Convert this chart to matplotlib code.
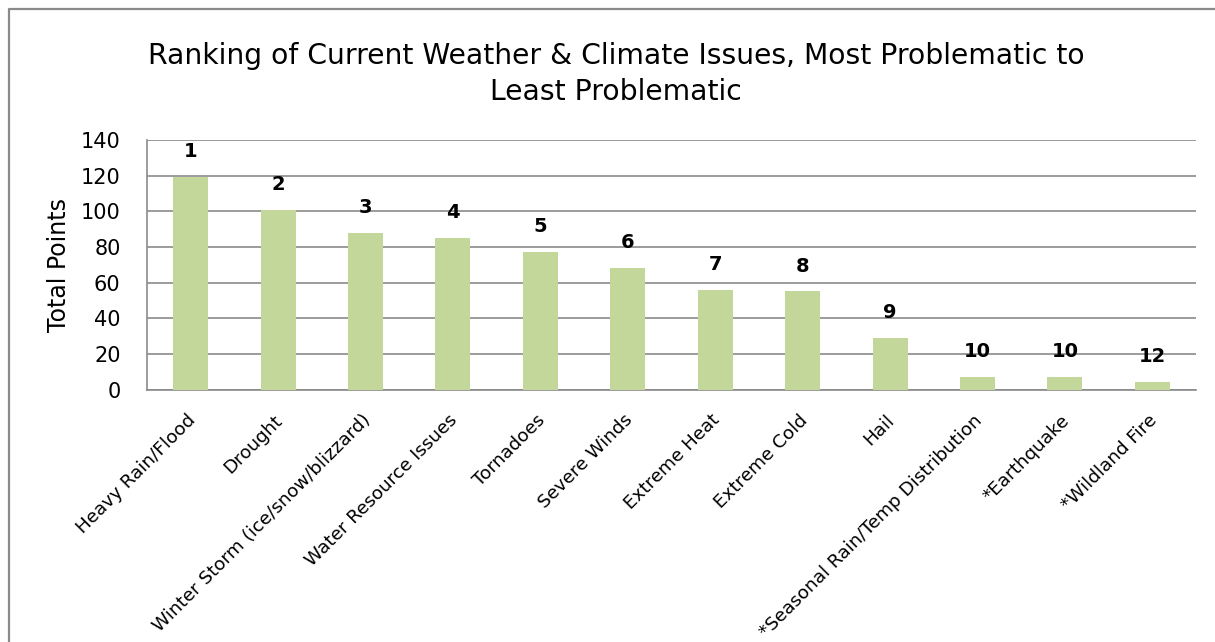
import matplotlib
matplotlib.use("Agg")
import matplotlib.pyplot as plt
import matplotlib.transforms as mtransforms
from matplotlib.lines import Line2D
import numpy as np

# Survey results: total points per issue and the resulting rank
issues = ["Heavy Rain/Flood", "Drought", "Winter Storm (ice/snow/blizzard)",
          "Water Resource Issues", "Tornadoes", "Severe Winds", "Extreme Heat",
          "Extreme Cold", "Hail", "*Seasonal Rain/Temp Distribution",
          "*Earthquake", "*Wildland Fire"]
points = [119, 101, 88, 85, 77, 68, 56, 55, 29, 7, 7, 4]
ranks = ["1", "2", "3", "4", "5", "6", "7", "8", "9", "10", "10", "12"]
yticks = [0, 20, 40, 60, 80, 100, 120, 140]

plt.rcParams["font.family"] = "DejaVu Sans"
fig = plt.figure(figsize=(12.15, 6.42), dpi=100)
ax = fig.add_axes([147/1215, 1-389.5/642, (1196-147)/1215, (389.5-140)/642])

x = np.arange(len(issues))
ax.bar(x, points, width=0.4, color="#c4d79b", zorder=3)

# rank shown above each bar
for xi, p, r in zip(x, points, ranks):
    ax.annotate(r, (xi, p), xytext=(0, 11.5), textcoords="offset points",
                ha="center", va="bottom", fontsize=14, fontweight="bold",
                color="black", zorder=4)

ax.set_xlim(-0.5, len(issues) - 0.5)
ax.set_ylim(0, 140)
ax.set_yticks(yticks)
ax.tick_params(axis="y", length=0, pad=19, labelsize=15)
ax.yaxis.grid(True, color="#8a8a8a", linewidth=1.2, zorder=0)
ax.set_axisbelow(True)

ax.set_xticks(x)
ax.set_xticklabels(issues, rotation=45, ha="right", va="center",
                   rotation_mode="anchor", fontsize=13.2)
ax.tick_params(axis="x", length=0, pad=0)
shift = mtransforms.ScaledTranslation(0.02, -0.28, fig.dpi_scale_trans)
for lbl in ax.get_xticklabels():
    lbl.set_transform(lbl.get_transform() + shift)

for side in ["top", "right"]:
    ax.spines[side].set_visible(False)
for side in ["left", "bottom"]:
    ax.spines[side].set_color("#8a8a8a")
    ax.spines[side].set_linewidth(1.2)

fig.text(616/1215, 1-42/642,
         "Ranking of Current Weather & Climate Issues, Most Problematic to\nLeast Problematic",
         ha="center", va="top", fontsize=20.3, linespacing=1.38)
fig.text(59/1215, 1-265/642, "Total Points", rotation=90,
         ha="center", va="center", fontsize=17)

# chart frame (runs off the right and bottom edges)
bx, by = 8.5/1215, 1-8.5/642
fig.add_artist(Line2D([bx, bx, 1.01], [-0.01, by, by], transform=fig.transFigure,
                      color="#8a8a8a", linewidth=1.6))

fig.savefig("out.png", dpi=100)
